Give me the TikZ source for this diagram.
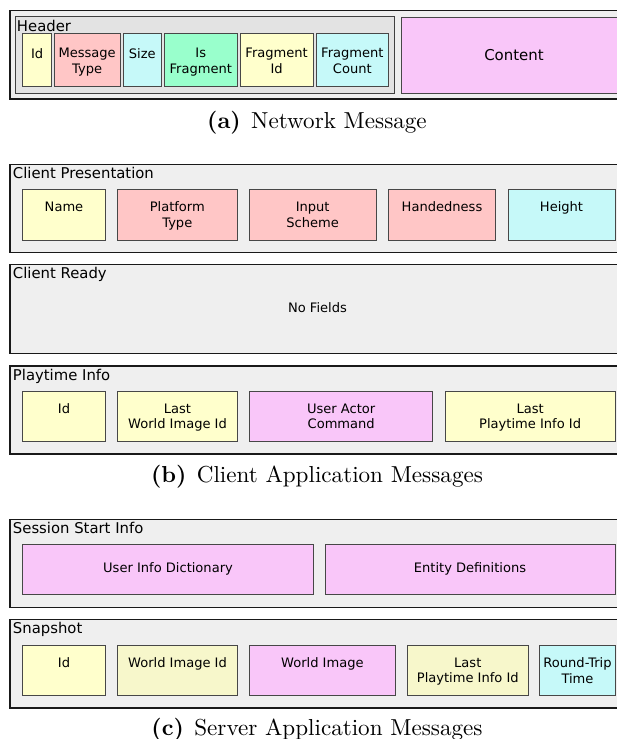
\documentclass[tikz,border=0pt]{standalone}
\usepackage{fontspec}
\newfontfamily\dvs{DejaVu Sans}
\newfontfamily\capfont{lmroman10-regular.otf}[BoldFont=lmroman10-bold.otf]
\usetikzlibrary{fit,calc}
\definecolor{yel}{HTML}{FFFFCC}
\definecolor{paleyel}{HTML}{F7F7CB}
\definecolor{pinkf}{HTML}{FFC6C6}
\definecolor{cyanf}{HTML}{C6F9F9}
\definecolor{greenf}{HTML}{99FFCC}
\definecolor{magf}{HTML}{F9C6F9}
\definecolor{outerg}{HTML}{EFEFEF}
\definecolor{hdrg}{HTML}{E3E3E3}
\tikzset{
  msg/.style={draw=black!90, fill=outerg, line width=1.1bp, inner sep=0pt},
  hdr/.style={draw=black!75, fill=hdrg, line width=1bp, inner sep=0pt},
  field/.style={draw=black!72, line width=0.9bp, inner sep=0pt},
  title/.style={font=\dvs\fontsize{14.9}{17}\selectfont, anchor=base west, inner sep=0pt},
  ftext/.style={font=\dvs\fontsize{13.1}{15.5}\selectfont, anchor=north, inner sep=0pt, align=center},
  ctext/.style={font=\dvs\fontsize{13.1}{15.5}\selectfont, anchor=center, inner sep=0pt, align=center},
  capt/.style={font=\capfont\fontsize{23.2}{28}\selectfont, anchor=base, inner sep=0pt}
}
% name, x1, y1, x2, y2, fill, text, text offset
\newcommand\fld[8]{\node[field, fill=#6, fit={(#2,#3) (#4,#5)}] (#1) {};
  \path (#1.north) ++(0,#8) node[ftext] (#1t) {#7};}
% name, x1, y1, x2, y2, fill, text (vertically centred)
\newcommand\cfld[7]{\node[field, fill=#6, fit={(#2,#3) (#4,#5)}] (#1) {};
  \node[ctext] (#1t) at (#1.center) {#7};}
% name, x1, y1, x2, y2, title
\newcommand\grpbox[6]{\node[msg, fit={(#2,#3) (#4,#5)}] (#1) {};
  \path (#1.north west) ++(3.3,14.7) node[title] (#1t) {#6};}
\begin{document}
\begin{tikzpicture}[x={(1bp,0)}, y={(0,-1bp)}]
\clip (0,0) rectangle (617,739);
\fill[white] (0,0) rectangle (617,739);
% ---------------- (a) ----------------
\node[msg, fit={(10,10.7) (640,99)}] (net) {};
\node[hdr, fit={(15.7,17) (394.7,93)}] (hdrbox) {};
\path (hdrbox.north west) ++(1.6,14.7) node[title] (hdrt) {Header};
\fld{aid}{22.7}{33}{51.7}{86.7}{yel}{Id}{15.6}
\fld{amt}{54.3}{33}{120}{86.7}{pinkf}{Message\\Type}{15.6}
\fld{asz}{123.3}{33}{161.3}{86.7}{cyanf}{Size}{15.6}
\fld{aisf}{164.3}{33}{237.3}{86.7}{greenf}{Is\\Fragment}{15.6}
\fld{afid}{240}{33}{313.3}{86.7}{yel}{Fragment\\Id}{15.6}
\fld{afc}{316}{33}{388.7}{86.7}{cyanf}{Fragment\\Count}{15.6}
\node[field, fill=magf, fit={(401,17) (627,93)}] (content) {};
\node[ctext, font=\dvs\fontsize{15}{17}\selectfont] (contentt) at (content.center) {Content};
\node[capt] (capa) at (317,128) {\textbf{(a)}\hspace{0.45em}Network Message};
% ---------------- (b) ----------------
\grpbox{cpres}{10}{164.3}{625}{252.3}{Client Presentation}
\fld{bname}{22.7}{189.3}{105.3}{240}{yel}{Name}{13}
\fld{bplat}{117.3}{189.3}{237.3}{240}{pinkf}{Platform\\Type}{13}
\fld{binput}{249.3}{189.3}{376}{240}{pinkf}{Input\\Scheme}{13}
\fld{bhand}{388.3}{189.3}{495.7}{240}{pinkf}{Handedness}{13}
\fld{bheight}{508}{189.3}{615}{240}{cyanf}{Height}{13}
\grpbox{cready}{10}{264.7}{625}{353.3}{Client Ready}
\node[ctext] (nofields) at ($(cready.center)+(0,-1.5)$) {No Fields};
\grpbox{pinfo}{10}{366}{625}{454}{Playtime Info}
\fld{pid}{22.7}{391}{105.3}{441.7}{yel}{Id}{13}
\fld{plwi}{117.3}{391}{237.7}{441.7}{yel}{Last\\World Image Id}{13}
\fld{puac}{249.7}{391}{432.7}{441.7}{magf}{User Actor\\Command}{13}
\fld{plpi}{445}{391}{615.3}{441.7}{yel}{Last\\Playtime Info Id}{13}
\node[capt] (capb) at (317,482) {\textbf{(b)}\hspace{0.45em}Client Application Messages};
% ---------------- (c) ----------------
\grpbox{sstart}{10}{519.3}{625}{607.3}{Session Start Info}
\cfld{suid}{22.7}{544.3}{313.3}{594.3}{magf}{User Info Dictionary}
\cfld{sent}{325}{544.3}{615}{594.3}{magf}{Entity Definitions}
\grpbox{snap}{10}{619.3}{625}{708}{Snapshot}
\fld{nid}{22.7}{645}{105.3}{695.3}{yel}{Id}{13}
\fld{nwid}{117.3}{645}{237.7}{695.3}{paleyel}{World Image Id}{13}
\fld{nwi}{249.7}{645}{395}{695.3}{magf}{World Image}{13}
\fld{nlpi}{407.3}{645}{528.3}{695.3}{paleyel}{Last\\Playtime Info Id}{13}
\fld{nrtt}{539.5}{645}{615.5}{695.3}{cyanf}{Round-Trip\\Time}{13}
\node[capt] (capc) at (317,735) {\textbf{(c)}\hspace{0.45em}Server Application Messages};
\end{tikzpicture}
\end{document}
